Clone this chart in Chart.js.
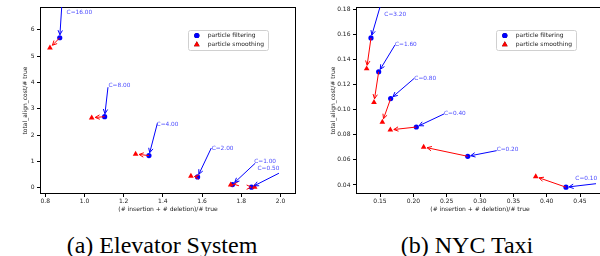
<!DOCTYPE html>
<html>
<head>
<meta charset="utf-8">
<script src="https://cdn.jsdelivr.net/npm/chart.js@4.4.1/dist/chart.umd.min.js"></script>
<style>
  html, body { margin: 0; padding: 0; background: #fff; width: 600px; height: 256px; overflow: hidden; }
  #wrap { position: relative; width: 600px; height: 256px; overflow: hidden; }
  canvas { position: absolute; top: 0; }
  .cap { position: absolute; top: 233px; font-family: 'Liberation Serif', 'Times New Roman', serif; font-size: 24px; line-height: 24px; color: #000; text-align: center; white-space: nowrap; }
</style>
</head>
<body>
<div id="wrap">
  <canvas id="c1" width="300" height="220" style="left:0px"></canvas>
  <canvas id="c2" width="310" height="220" style="left:300px"></canvas>
  <div class="cap" style="left:62px;width:200px">(a) Elevator System</div>
  <div class="cap" style="left:367px;width:200px">(b) NYC Taxi</div>
</div>
<script>
// ---------- Elevator System data ----------
const elevC = ['C=16.00', 'C=8.00', 'C=4.00', 'C=2.00', 'C=1.00', 'C=0.50'];
const elevFilterX = [0.874, 1.103, 1.329, 1.577, 1.755, 1.852];
const elevFilterY = [5.70, 2.70, 1.22, 0.41, 0.12, 0.02];
const elevSmoothX = [0.824, 1.037, 1.261, 1.543, 1.746, 1.868];
const elevSmoothY = [5.32, 2.66, 1.28, 0.44, 0.11, 0.02];
const elevLabelX = [0.909, 1.123, 1.368, 1.649, 1.866, 1.883];
const elevLabelY = [6.67, 3.90, 2.40, 1.50, 0.99, 0.72];
const elevArrowFromX = [0.884, 1.120, 1.372, 1.647, 1.871, 1.992];
const elevArrowFromY = [6.87, 3.82, 2.45, 1.51, 0.93, 0.55];
const elevXTicks = [0.8, 1.0, 1.2, 1.4, 1.6, 1.8, 2.0];
const elevXTickLabels = ['0.8', '1.0', '1.2', '1.4', '1.6', '1.8', '2.0'];
const elevYTicks = [0, 1, 2, 3, 4, 5, 6];
const elevYTickLabels = ['0', '1', '2', '3', '4', '5', '6'];

// ---------- NYC Taxi data ----------
const taxiC = ['C=3.20', 'C=1.60', 'C=0.80', 'C=0.40', 'C=0.20', 'C=0.10'];
const taxiFilterX = [0.1365, 0.148, 0.166, 0.2045, 0.2816, 0.429];
const taxiFilterY = [0.157, 0.130, 0.1087, 0.0861, 0.0628, 0.0382];
const taxiSmoothX = [0.130, 0.141, 0.1535, 0.1655, 0.2155, 0.3836];
const taxiSmoothY = [0.1325, 0.1058, 0.0901, 0.0838, 0.0702, 0.0466];
const taxiLabelX = [0.1565, 0.1725, 0.2015, 0.246, 0.325, 0.443];
const taxiLabelY = [0.176, 0.1514, 0.1249, 0.0965, 0.0686, 0.0448];
const taxiArrowFromX = [0.150, 0.1725, 0.2015, 0.246, 0.325, 0.474];
const taxiArrowFromY = [0.1816, 0.1514, 0.1249, 0.0965, 0.0673, 0.041];
const taxiXTicks = [0.15, 0.20, 0.25, 0.30, 0.35, 0.40, 0.45];
const taxiXTickLabels = ['0.15', '0.20', '0.25', '0.30', '0.35', '0.40', '0.45'];
const taxiYTicks = [0.04, 0.06, 0.08, 0.10, 0.12, 0.14, 0.16, 0.18];
const taxiYTickLabels = ['0.04', '0.06', '0.08', '0.10', '0.12', '0.14', '0.16', '0.18'];

const seriesNames = ['particle filtering', 'particle smoothing'];
const xTitle = '(# insertion + # deletion)/# true';
const yTitle = 'total_align_cost/# true';

Chart.defaults.font.family = 'DejaVu Sans';

const BLUE = '#0000ff', RED = '#ff0000', LABEL = '#4a4aff', INK = '#1a1a1a';

function drawArrow(ctx, x1, y1, x2, y2, color, shrink) {
  const dx = x2 - x1, dy = y2 - y1, len = Math.hypot(dx, dy);
  const ux = dx / len, uy = dy / len;
  const ex = x2 - ux * shrink, ey = y2 - uy * shrink;
  ctx.strokeStyle = color; ctx.lineWidth = 1; ctx.lineCap = 'butt'; ctx.lineJoin = 'miter';
  ctx.beginPath(); ctx.moveTo(x1, y1); ctx.lineTo(ex, ey); ctx.stroke();
  const L = 4.5, W = 2.2;
  ctx.beginPath();
  ctx.moveTo(ex - ux * L - uy * W, ey - uy * L + ux * W);
  ctx.lineTo(ex, ey);
  ctx.lineTo(ex - ux * L + uy * W, ey - uy * L - ux * W);
  ctx.stroke();
}

const extras = {
  id: 'extras',
  afterDatasetsDraw(chart) {
    const o = chart.options.plugins.extras;
    const { ctx, chartArea: a } = chart;
    const xs = chart.scales.x, ys = chart.scales.y;
    ctx.save();
    // frame
    ctx.strokeStyle = '#000'; ctx.lineWidth = 1;
    ctx.strokeRect(Math.round(a.left) + 0.5, Math.round(a.top) + 0.5, Math.round(a.right - a.left) - 1, Math.round(a.bottom - a.top) - 1);
    // arrows
    for (let i = 0; i < o.labels.length; i++) {
      const fx = xs.getPixelForValue(o.fx[i]), fy = ys.getPixelForValue(o.fy[i]);
      const sx = xs.getPixelForValue(o.sx[i]), sy = ys.getPixelForValue(o.sy[i]);
      const ax = xs.getPixelForValue(o.ax[i]), ay = ys.getPixelForValue(o.ay[i]);
      drawArrow(ctx, fx, fy, sx, sy, RED, 3.5);
      drawArrow(ctx, ax, ay, fx, fy, BLUE, 3.0);
    }
    // labels
    ctx.font = '5.8px "DejaVu Sans"';
    ctx.fillStyle = LABEL; ctx.textAlign = 'left'; ctx.textBaseline = 'middle';
    for (let i = 0; i < o.labels.length; i++) {
      ctx.fillText(o.labels[i], xs.getPixelForValue(o.lx[i]), ys.getPixelForValue(o.ly[i]));
    }
    // legend
    const bw = 80, bh = 20;
    const bx = Math.round(a.right - 28 - bw) + 0.5, by = Math.round(a.top + 23) + 0.5;
    ctx.fillStyle = 'rgba(255,255,255,0.85)';
    ctx.strokeStyle = '#d0d0d0'; ctx.lineWidth = 1;
    ctx.beginPath();
    if (ctx.roundRect) ctx.roundRect(bx, by, bw, bh, 2); else ctx.rect(bx, by, bw, bh);
    ctx.fill(); ctx.stroke();
    const rows = [by + 5, by + 14];
    ctx.font = '6px "DejaVu Sans"'; ctx.textBaseline = 'middle'; ctx.fillStyle = INK;
    for (let k = 0; k < 2; k++) {
      const ds = chart.data.datasets[k];
      Chart.helpers.drawPoint(ctx, { pointStyle: ds.pointStyle, radius: ds.pointRadius, borderWidth: 0, rotation: 0 }, bx + 8.3, rows[k]);
      ctx.fillStyle = ds.backgroundColor; ctx.fill();
      ctx.fillStyle = INK;
      ctx.fillText(ds.label, bx + 19.3, rows[k]);
    }
    ctx.restore();
  }
};

function makeChart(id, cfg) {
  const pts = (xs, ys) => xs.map((x, i) => ({ x, y: ys[i] }));
  return new Chart(document.getElementById(id), {
    type: 'scatter',
    data: {
      datasets: [
        { label: seriesNames[0], data: pts(cfg.fx, cfg.fy), pointStyle: 'circle', pointRadius: 2.6, backgroundColor: BLUE, borderWidth: 0, order: 1 },
        { label: seriesNames[1], data: pts(cfg.sx, cfg.sy), pointStyle: 'triangle', pointRadius: 3.3, backgroundColor: RED, borderWidth: 0, order: 0 }
      ]
    },
    options: {
      responsive: false, animation: false, devicePixelRatio: 1,
      layout: { padding: { left: 0, top: 7, right: cfg.padRight, bottom: 0 } },
      plugins: { legend: { display: false }, tooltip: { enabled: false }, extras: cfg },
      scales: {
        x: {
          type: 'linear', min: cfg.xmin, max: cfg.xmax,
          afterFit: s => { s.height = 26; },
          afterBuildTicks: s => { s.ticks = cfg.xTicks.map(v => ({ value: v })); },
          ticks: { autoSkip: false, maxRotation: 0, padding: 1, color: INK, font: { size: 6 }, callback: (v, i) => cfg.xTickLabels[i] },
          grid: { display: true, drawOnChartArea: false, drawTicks: true, tickLength: 3, color: '#000' },
          border: { display: false },
          title: { display: true, text: xTitle, color: INK, font: { size: 6 }, padding: { top: 0, bottom: 7.1 } }
        },
        y: {
          type: 'linear', min: cfg.ymin, max: cfg.ymax,
          afterFit: s => { s.width = cfg.yAxisWidth; },
          afterBuildTicks: s => { s.ticks = cfg.yTicks.map(v => ({ value: v })); },
          ticks: { autoSkip: false, padding: 2.5, color: INK, font: { size: 6 }, callback: (v, i) => cfg.yTickLabels[i] },
          grid: { display: true, drawOnChartArea: false, drawTicks: true, tickLength: 3, color: '#000' },
          border: { display: false },
          title: { display: true, text: yTitle, color: INK, font: { size: 6 }, padding: { top: cfg.yTitlePad, bottom: 0 } }
        }
      }
    },
    plugins: [extras]
  });
}

makeChart('c1', {
  fx: elevFilterX, fy: elevFilterY, sx: elevSmoothX, sy: elevSmoothY,
  labels: elevC, lx: elevLabelX, ly: elevLabelY, ax: elevArrowFromX, ay: elevArrowFromY,
  xTicks: elevXTicks, xTickLabels: elevXTickLabels, yTicks: elevYTicks, yTickLabels: elevYTickLabels,
  xmin: 0.7733, xmax: 2.079, ymin: -0.24, ymax: 6.87,
  padRight: 1, yAxisWidth: 40, yTitlePad: 21.4
});
makeChart('c2', {
  fx: taxiFilterX, fy: taxiFilterY, sx: taxiSmoothX, sy: taxiSmoothY,
  labels: taxiC, lx: taxiLabelX, ly: taxiLabelY, ax: taxiArrowFromX, ay: taxiArrowFromY,
  xTicks: taxiXTicks, xTickLabels: taxiXTickLabels, yTicks: taxiYTicks, yTickLabels: taxiYTickLabels,
  xmin: 0.114, xmax: 0.486, ymin: 0.0328, ymax: 0.1816,
  padRight: 6, yAxisWidth: 56, yTitlePad: 29.7
});
</script>
</body>
</html>
